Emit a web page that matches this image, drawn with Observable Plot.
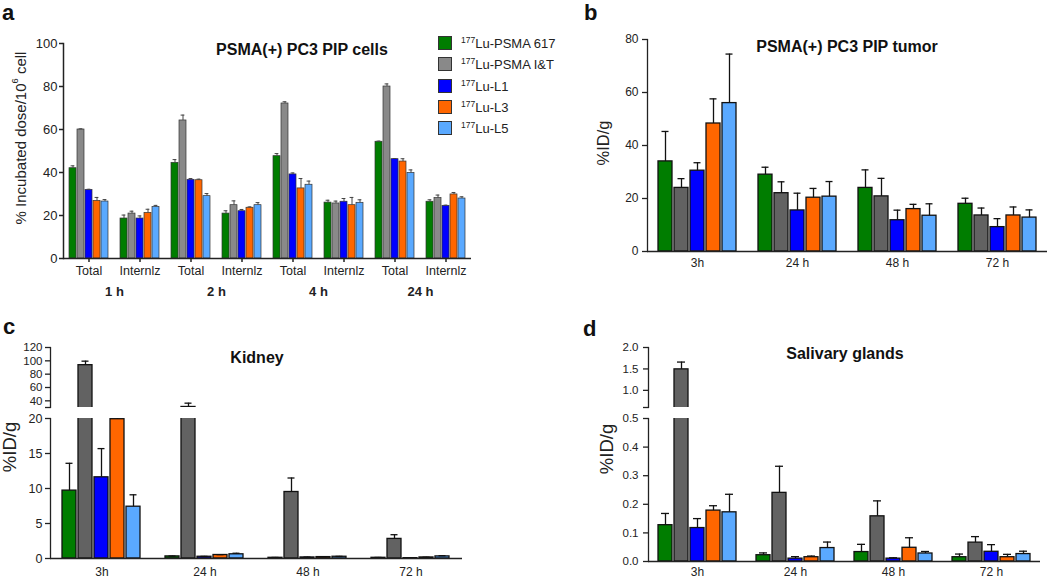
<!DOCTYPE html>
<html>
<head>
<meta charset="utf-8">
<script src="https://cdn.jsdelivr.net/npm/d3@7"></script>
<script src="https://cdn.jsdelivr.net/npm/@observablehq/plot@0.6"></script>
<style>
  html, body { margin: 0; padding: 0; background: #fff; }
  #root { position: relative; width: 1050px; height: 579px; overflow: hidden; background: #fff; }
  #root > svg, #root > figure { position: absolute; margin: 0; }
</style>
</head>
<body>
<div id="root"></div>
<script>
// ---------------- DATA ----------------
const seriesNames = ["177Lu-PSMA 617", "177Lu-PSMA I&T", "177Lu-L1", "177Lu-L3", "177Lu-L5"];

// Panel a: cells
const cellGroups = ["Total 1 h", "Internlz 1 h", "Total 2 h", "Internlz 2 h", "Total 4 h", "Internlz 4 h", "Total 24 h", "Internlz 24 h"];
const cellHours = ["1 h", "2 h", "4 h", "24 h"];
const cellMeans = [
  [42.0, 18.6, 44.5, 20.9, 47.6, 26.0, 54.3, 26.4],
  [60.0, 20.9, 64.2, 24.8, 72.1, 25.6, 80.0, 28.1],
  [31.9, 18.6, 36.6, 22.0, 39.1, 26.4, 46.2, 24.5],
  [26.8, 21.2, 36.4, 23.6, 32.6, 24.8, 45.1, 29.8],
  [26.5, 24.0, 29.0, 24.8, 34.3, 25.9, 39.8, 27.9]
];
const cellErrs = [
  [1.1, 1.6, 1.5, 1.3, 1.2, 1.1, 0.3, 0.9],
  [0.3, 1.1, 2.5, 2.0, 0.8, 1.1, 1.2, 1.4],
  [0.3, 1.2, 0.6, 0.8, 0.7, 1.5, 0.3, 0.3],
  [1.6, 1.7, 0.5, 0.4, 4.6, 3.6, 1.3, 0.9],
  [0.9, 0.7, 1.2, 1.2, 1.7, 1.4, 1.4, 0.8]
];

// Panels b-d: in vivo time points
const vivoTimes = ["3h", "24 h", "48 h", "72 h"];
const tumorMeans = [
  [34.0, 29.0, 24.0, 18.0],
  [24.0, 22.0, 20.8, 13.6],
  [30.5, 15.5, 11.8, 9.2],
  [48.3, 20.3, 16.0, 13.6],
  [56.0, 20.7, 13.5, 12.8]
];
const tumorErrs = [
  [11.3, 2.8, 6.8, 2.1],
  [3.5, 4.3, 6.8, 2.8],
  [3.0, 6.5, 3.8, 3.2],
  [9.3, 3.5, 1.8, 3.2],
  [18.5, 5.7, 4.5, 2.9]
];
const kidneyMeans = [
  [9.7, 0.3, 0.1, 0.1],
  [93.5, 30.8, 9.5, 2.8],
  [11.6, 0.25, 0.15, 0.05],
  [19.9, 0.5, 0.2, 0.15],
  [7.4, 0.6, 0.25, 0.3]
];
const kidneyErrs = [
  [3.9, 0.05, 0.05, 0.05],
  [6.0, 5.7, 2.0, 0.6],
  [4.1, 0.05, 0.05, 0.02],
  [0.3, 0.05, 0.05, 0.03],
  [1.7, 0.15, 0.05, 0.1]
];
const salivaryMeans = [
  [0.127, 0.022, 0.033, 0.015],
  [1.49, 0.24, 0.158, 0.066],
  [0.117, 0.010, 0.010, 0.034],
  [0.178, 0.015, 0.048, 0.015],
  [0.172, 0.047, 0.028, 0.026]
];
const salivaryErrs = [
  [0.041, 0.008, 0.027, 0.011],
  [0.17, 0.093, 0.054, 0.021],
  [0.033, 0.007, 0.003, 0.025],
  [0.017, 0.004, 0.035, 0.010],
  [0.063, 0.021, 0.007, 0.010]
];

// tick values
const cellTicks = [0, 20, 40, 60, 80, 100];
const tumorTicks = [0, 20, 40, 60, 80];
const kidneyTopTicks = [30, 40, 60, 80, 100, 120];
const kidneyBottomTicks = [0, 5, 10, 15, 20];
const salivaryTopTicks = [0.6, 1.0, 1.5, 2.0];
const salivaryBottomTicks = [0, 0.1, 0.2, 0.3, 0.4, 0.5];

// ---------------- STYLE ----------------
const FONT = "'Liberation Sans', Arial, Helvetica, sans-serif";
const colorsA = ["#007d00", "#898989", "#0000ff", "#ff6600", "#5aa9ff"];
const colorsB = ["#007d00", "#626262", "#0000ff", "#ff6600", "#5aa9ff"];

function rowsFrom(groups, means, errs) {
  return seriesNames.flatMap((s, i) => groups.map((g, j) => ({group: g, series: s, value: means[i][j], err: errs[i][j]})));
}

function groupedPlot(o) {
  const rows = rowsFrom(o.groups, o.means, o.errs);
  const clip = !!o.clip;
  const marks = [
    Plot.barY(rows, {fx: "group", x: "series", y: "value", fill: "series", stroke: o.barStroke, strokeWidth: o.barStrokeWidth, clip}),
    Plot.ruleX(rows, {fx: "group", x: "series", y1: "value", y2: d => d.value + d.err, stroke: o.errColor, strokeWidth: o.errWidth, clip}),
    Plot.tickY(rows, {fx: "group", x: "series", y: d => d.value + d.err, stroke: o.errColor, strokeWidth: o.errWidth, insetLeft: o.capInset, insetRight: o.capInset, clip}),
    Plot.axisY({ticks: o.yTicks, tickFormat: o.yFormat, tickSize: o.tickSize, tickPadding: o.tickPadding, fontSize: o.fontSize, label: null, strokeWidth: o.axisWidth}),
    Plot.frame({anchor: "left", facetAnchor: "left", stroke: "#222", strokeWidth: o.axisWidth})
  ];
  if (o.xAxis) {
    marks.push(Plot.ruleY([o.yDomain[0]], {stroke: "#222", strokeWidth: o.axisWidth}));
    marks.push(Plot.axisFx({anchor: "bottom", tickSize: o.fxTickSize, tickPadding: o.fxTickPadding, tickFormat: o.fxFormat, fontSize: o.xFontSize, label: null, strokeWidth: o.axisWidth}));
  }
  if (o.extra) marks.push(...o.extra);
  const svg = Plot.plot({
    width: o.width, height: o.height,
    marginTop: o.mt, marginBottom: o.mb, marginLeft: o.ml, marginRight: o.mr,
    x: {domain: seriesNames, paddingInner: o.padInner, paddingOuter: o.padOuter, axis: null},
    fx: {domain: o.groups, padding: 0, axis: null},
    y: {domain: o.yDomain, axis: null},
    color: {domain: seriesNames, range: o.colors},
    style: {fontFamily: FONT, fontSize: "12px", color: "#222", background: "transparent", overflow: "visible"},
    marks
  });
  svg.style.left = o.left + "px";
  svg.style.top = o.top + "px";
  return svg;
}

const root = document.getElementById("root");

// Panel a
root.appendChild(groupedPlot({
  groups: cellGroups, means: cellMeans, errs: cellErrs, colors: colorsA,
  left: 0, top: 0, width: 480, height: 310, mt: 43, mb: 52, ml: 59, mr: 6,
  yDomain: [0, 100], yTicks: cellTicks, yFormat: d => d,
  padInner: 0.08, padOuter: 0.56,
  barStroke: "#333", barStrokeWidth: 0.7, errColor: "#444", errWidth: 1, capInset: 1.6,
  tickSize: 4, tickPadding: 2, fontSize: 13, axisWidth: 1.5,
  xAxis: true, fxTickSize: 4, fxTickPadding: 4, fxFormat: d => d.split(" ")[0], xFontSize: 12.5,
  extra: [
    Plot.text(cellHours.map(h => ({key: "Total " + h, hour: h})), {fx: "key", text: "hour", frameAnchor: "bottom-right", textAnchor: "middle", dy: 37, fontWeight: "bold", fontSize: 13})
  ]
}));

// Panel b
root.appendChild(groupedPlot({
  groups: vivoTimes, means: tumorMeans, errs: tumorErrs, colors: colorsB,
  left: 560, top: 0, width: 490, height: 290, mt: 39, mb: 39, ml: 85, mr: 2,
  yDomain: [0, 80], yTicks: tumorTicks, yFormat: d => d,
  padInner: 0.12, padOuter: 0.53,
  barStroke: "#111", barStrokeWidth: 1.3, errColor: "#111", errWidth: 1.3, capInset: 3.5,
  tickSize: 5, tickPadding: 4, fontSize: 12, axisWidth: 1.3,
  xAxis: true, fxTickSize: 0, fxTickPadding: 7, fxFormat: d => d, xFontSize: 12
}));

// Panel c (broken axis: top + bottom)
root.appendChild(groupedPlot({
  groups: vivoTimes, means: kidneyMeans, errs: kidneyErrs, colors: colorsB,
  left: 0, top: 335, width: 470, height: 75, mt: 12, mb: 3, ml: 50, mr: 8,
  yDomain: [30, 120], yTicks: kidneyTopTicks, yFormat: d => d === 30 ? "" : d,
  padInner: 0.12, padOuter: 0.59, clip: true,
  barStroke: "#111", barStrokeWidth: 1.3, errColor: "#111", errWidth: 1.3, capInset: 3.5,
  tickSize: 5, tickPadding: 3, fontSize: 11.5, axisWidth: 1.3,
  xAxis: false
}));
root.appendChild(groupedPlot({
  groups: vivoTimes, means: kidneyMeans, errs: kidneyErrs, colors: colorsB,
  left: 0, top: 400, width: 470, height: 179, mt: 18, mb: 21, ml: 50, mr: 8,
  yDomain: [0, 20], yTicks: kidneyBottomTicks, yFormat: d => d,
  padInner: 0.12, padOuter: 0.59, clip: true,
  barStroke: "#111", barStrokeWidth: 1.3, errColor: "#111", errWidth: 1.3, capInset: 3.5,
  tickSize: 5, tickPadding: 3, fontSize: 12.5, axisWidth: 1.3,
  xAxis: true, fxTickSize: 0, fxTickPadding: 9, fxFormat: d => d, xFontSize: 12
}));

// Panel d (broken axis: top + bottom)
root.appendChild(groupedPlot({
  groups: vivoTimes, means: salivaryMeans, errs: salivaryErrs, colors: colorsB,
  left: 560, top: 335, width: 490, height: 75, mt: 12, mb: 3, ml: 87, mr: 10,
  yDomain: [0.6, 2.0], yTicks: salivaryTopTicks, yFormat: d => d === 0.6 ? "" : d.toFixed(1),
  padInner: 0.15, padOuter: 0.55, clip: true,
  barStroke: "#111", barStrokeWidth: 1.3, errColor: "#111", errWidth: 1.3, capInset: 3,
  tickSize: 5, tickPadding: 5, fontSize: 11.5, axisWidth: 1.3,
  xAxis: false
}));
root.appendChild(groupedPlot({
  groups: vivoTimes, means: salivaryMeans, errs: salivaryErrs, colors: colorsB,
  left: 560, top: 400, width: 490, height: 179, mt: 18, mb: 18, ml: 87, mr: 10,
  yDomain: [0, 0.5], yTicks: salivaryBottomTicks, yFormat: d => d.toFixed(1),
  padInner: 0.15, padOuter: 0.55, clip: true,
  barStroke: "#111", barStrokeWidth: 1.3, errColor: "#111", errWidth: 1.3, capInset: 3,
  tickSize: 5, tickPadding: 5, fontSize: 11.5, axisWidth: 1.3,
  xAxis: true, fxTickSize: 0, fxTickPadding: 6, fxFormat: d => d, xFontSize: 12
}));

// ---------------- ANNOTATIONS (titles, letters, axis labels, legend) ----------------
const ann = d3.create("svg").attr("width", 1050).attr("height", 579)
  .style("left", "0px").style("top", "0px").style("pointer-events", "none")
  .attr("font-family", FONT).attr("fill", "#111");

const letters = [["a", 2, 20], ["b", 584, 20], ["c", 3, 334], ["d", 583, 336]];
for (const [t, x, y] of letters) ann.append("text").attr("x", x).attr("y", y).attr("font-size", 22).attr("font-weight", "bold").text(t);

const titles = [["PSMA(+) PC3 PIP cells", 302, 49], ["PSMA(+) PC3 PIP tumor", 847, 46], ["Kidney", 257, 357], ["Salivary glands", 845, 353]];
for (const [t, x, y] of titles) ann.append("text").attr("x", x).attr("y", y).attr("text-anchor", "middle").attr("dominant-baseline", "central").attr("font-size", 16).attr("font-weight", "bold").text(t);

function ylabel(cx, cy, size, parts) {
  const t = ann.append("text").attr("transform", `translate(${cx},${cy}) rotate(-90)`).attr("text-anchor", "middle").attr("dominant-baseline", "central").attr("font-size", size).attr("fill", "#222");
  for (const [s, sup] of parts) {
    const ts = t.append("tspan").text(s);
    if (sup) ts.attr("font-size", size * 0.62).attr("baseline-shift", "super");
  }
}
ylabel(20, 138, 15, [["% Incubated dose/10", false], ["6", true], [" cell", false]]);
ylabel(603, 143, 16.5, [["%ID/g", false]]);
ylabel(9, 447, 18.5, [["%ID/g", false]]);
ylabel(606, 449, 18.5, [["%ID/g", false]]);

// legend
const legendRows = [43, 64, 86, 107, 128];
seriesNames.forEach((name, i) => {
  const y = legendRows[i];
  ann.append("rect").attr("x", 438.5).attr("y", y - 6.5).attr("width", 13).attr("height", 13).attr("fill", colorsA[i]).attr("stroke", "#333").attr("stroke-width", 1);
  const t = ann.append("text").attr("x", 461).attr("y", y + 5).attr("font-size", 13).attr("fill", "#222");
  t.append("tspan").attr("font-size", 8.5).attr("dy", -5.5).text(name.slice(0, 3));
  t.append("tspan").attr("dy", 5.5).text(name.slice(3));
});

root.appendChild(ann.node());
</script>
</body>
</html>
